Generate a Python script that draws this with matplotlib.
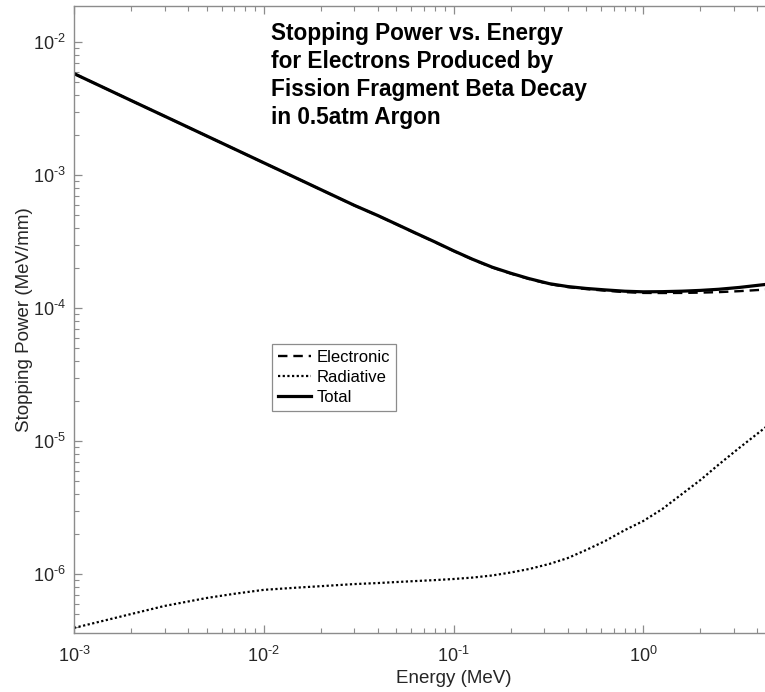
import matplotlib
matplotlib.use("Agg")
import matplotlib.pyplot as plt
from matplotlib.ticker import LogLocator, NullFormatter, FixedLocator, FixedFormatter

plt.rcParams['font.family'] = ['Liberation Sans', 'DejaVu Sans']
plt.rcParams['mathtext.fontset'] = 'custom'
plt.rcParams['mathtext.rm'] = 'Liberation Sans'
plt.rcParams['mathtext.it'] = 'Liberation Sans'
plt.rcParams['mathtext.bf'] = 'Liberation Sans:bold'

# ---- data ----
energy = [1e-3, 2e-3, 3e-3, 5e-3, 7e-3, 1e-2, 1.5e-2, 2e-2, 3e-2, 4e-2, 5e-2,
          6.3e-2, 8e-2, 0.1, 0.126, 0.16, 0.2, 0.25, 0.32, 0.4, 0.5, 0.63, 0.8,
          1.0, 1.26, 1.6, 2.0, 2.5, 3.2, 4.6]
electronic = [5.80e-3, 3.64e-3, 2.775e-3, 1.97e-3, 1.572e-3, 1.237e-3, 9.43e-4,
              7.77e-4, 5.92e-4, 4.95e-4, 4.27e-4, 3.66e-4, 3.13e-4, 2.69e-4,
              2.32e-4, 2.02e-4, 1.82e-4, 1.655e-4, 1.514e-4, 1.439e-4, 1.39e-4,
              1.352e-4, 1.318e-4, 1.30e-4, 1.298e-4, 1.30e-4, 1.307e-4, 1.318e-4,
              1.340e-4, 1.383e-4]
radiative = [3.93e-7, 5.0e-7, 5.75e-7, 6.6e-7, 7.1e-7, 7.6e-7, 7.9e-7, 8.1e-7,
             8.4e-7, 8.55e-7, 8.7e-7, 8.85e-7, 9.0e-7, 9.17e-7, 9.4e-7, 9.75e-7,
             1.026e-6, 1.09e-6, 1.19e-6, 1.318e-6, 1.515e-6, 1.771e-6, 2.14e-6,
             2.503e-6, 3.08e-6, 3.995e-6, 5.09e-6, 6.66e-6, 8.86e-6, 1.33e-5]
total = [5.80e-3, 3.64e-3, 2.776e-3, 1.971e-3, 1.573e-3, 1.238e-3, 9.44e-4,
         7.78e-4, 5.928e-4, 4.959e-4, 4.279e-4, 3.669e-4, 3.139e-4, 2.699e-4,
         2.329e-4, 2.030e-4, 1.830e-4, 1.666e-4, 1.526e-4, 1.452e-4, 1.405e-4,
         1.370e-4, 1.339e-4, 1.325e-4, 1.329e-4, 1.340e-4, 1.358e-4, 1.385e-4,
         1.429e-4, 1.516e-4]

legend_labels = ["Electronic", "Radiative", "Total"]
title_text = ("Stopping Power vs. Energy\nfor Electrons Produced by\n"
              "Fission Fragment Beta Decay\nin 0.5atm Argon")
x_label = "Energy (MeV)"
y_label = "Stopping Power (MeV/mm)"
x_major = [1e-3, 1e-2, 1e-1, 1e0, 1e1]
x_major_labels = [r"$10^{\text{-}3}$", r"$10^{\text{-}2}$", r"$10^{\text{-}1}$",
                  r"$10^{0}$", ""]
y_major = [1e-6, 1e-5, 1e-4, 1e-3, 1e-2]
y_major_labels = [r"$10^{\text{-}6}$", r"$10^{\text{-}5}$", r"$10^{\text{-}4}$",
                  r"$10^{\text{-}3}$", r"$10^{\text{-}2}$"]

W, H = 765, 692
fig = plt.figure(figsize=(W / 100, H / 100), dpi=100)
# the plot box runs past the right edge of the picture (cropped, as in the reference)
L, R, T, B = 74, 833, 6, 633
ax = fig.add_axes([L / W, 1 - B / H, (R - L) / W, (B - T) / H])

spine_col = '#8c8c8c'
ax.plot(energy, electronic, color='black', lw=1.7, dashes=(4, 2.5), label=legend_labels[0])
ax.plot(energy, radiative, color='black', lw=1.6, dashes=(1, 1.1), label=legend_labels[1])
ax.plot(energy, total, color='black', lw=2.3, label=legend_labels[2])

ax.set_xscale('log')
ax.set_yscale('log')
ax.set_xlim(1e-3, 10)
ax.set_ylim(3.6e-7, 1.87e-2)

ax.xaxis.set_major_locator(FixedLocator(x_major))
ax.xaxis.set_major_formatter(FixedFormatter(x_major_labels))
ax.yaxis.set_major_locator(FixedLocator(y_major))
ax.yaxis.set_major_formatter(FixedFormatter(y_major_labels))
ax.xaxis.set_minor_locator(LogLocator(base=10, subs=range(2, 10), numticks=20))
ax.yaxis.set_minor_locator(LogLocator(base=10, subs=range(2, 10), numticks=20))
ax.xaxis.set_minor_formatter(NullFormatter())
ax.yaxis.set_minor_formatter(NullFormatter())

for s in ax.spines.values():
    s.set_color(spine_col)
    s.set_linewidth(1.0)

ax.tick_params(which='both', direction='in', top=True, right=True,
               color=spine_col, labelcolor='#262626', labelsize=13)
ax.tick_params(which='major', length=6, width=0.9)
ax.tick_params(which='minor', length=3.5, width=0.8)
ax.tick_params(axis='x', which='major', pad=9)
ax.tick_params(axis='y', which='major', pad=6)

ax.set_xlabel(x_label, fontsize=13.5, color='#262626', labelpad=3)
ax.set_ylabel(y_label, fontsize=13.5, color='#262626', labelpad=0)

fig.text(271 / W, 1 - 22 / H, title_text, fontsize=16.3, fontweight='bold',
         ha='left', va='top', linespacing=1.27, color='black')

leg = ax.legend(loc='upper left', bbox_to_anchor=(272 / W, 1 - 344 / H),
                bbox_transform=fig.transFigure, borderaxespad=0, fontsize=12,
                frameon=True, fancybox=False, framealpha=1, edgecolor=spine_col,
                handlelength=2.0, handletextpad=0.3, labelspacing=0.3,
                borderpad=0.35)
leg.get_frame().set_linewidth(0.9)

fig.savefig('out.png', dpi=100)
